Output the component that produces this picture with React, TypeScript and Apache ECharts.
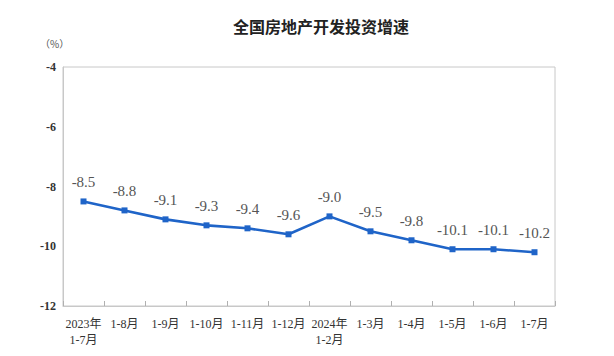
import React, { useEffect, useRef } from "react";
import * as echarts from "echarts";

const categories = [
  "2023年\n1-7月", "1-8月", "1-9月", "1-10月", "1-11月", "1-12月",
  "2024年\n1-2月", "1-3月", "1-4月", "1-5月", "1-6月", "1-7月",
];
const growth = [-8.5, -8.8, -9.1, -9.3, -9.4, -9.6, -9.0, -9.5, -9.8, -10.1, -10.1, -10.2];
const yTicks = { min: -12, max: -4, interval: 2 };

const SERIF = "'Liberation Serif', 'Times New Roman', 'Noto Sans CJK SC', serif";

export default function App() {
  const ref = useRef<HTMLDivElement>(null);
  useEffect(() => {
    if (!ref.current) return;
    const chart = echarts.init(ref.current, null, { renderer: "svg" });
    chart.setOption({
      animation: false,
      backgroundColor: "#ffffff",
      title: {
        text: "全国房地产开发投资增速",
        left: 228,
        top: 13,
        textStyle: {
          fontFamily: "'Noto Sans CJK SC', sans-serif",
          fontSize: 16,
          fontWeight: "bold",
          color: "#222",
        },
      },
      graphic: [
        {
          type: "text",
          left: 40,
          top: 38,
          style: {
            text: "（%）",
            fontFamily: "'Noto Sans CJK SC', sans-serif",
            fontSize: 10,
            fill: "#555",
          },
        },
      ],
      grid: {
        left: 63,
        right: 59,
        top: 67,
        bottom: 50,
        show: true,
        borderColor: "#c8c8c8",
        borderWidth: 1,
      },
      xAxis: {
        type: "category",
        data: categories,
        boundaryGap: true,
        axisLine: { show: true, lineStyle: { color: "#c8c8c8", width: 1 } },
        axisTick: { show: true, inside: true, length: 5, lineStyle: { color: "#b0b0b0" } },
        axisLabel: {
          interval: 0,
          color: "#333",
          fontFamily: SERIF,
          fontSize: 12,
          margin: 10,
          lineHeight: 16,
        },
      },
      yAxis: {
        type: "value",
        min: yTicks.min,
        max: yTicks.max,
        interval: yTicks.interval,
        axisLine: { show: true, lineStyle: { color: "#c8c8c8", width: 1 } },
        axisTick: { show: false },
        splitLine: { show: false },
        axisLabel: {
          color: "#333",
          fontFamily: SERIF,
          fontWeight: "bold",
          fontSize: 12,
          margin: 7,
        },
      },
      series: [
        {
          type: "line",
          data: growth,
          symbol: "rect",
          symbolSize: 6,
          lineStyle: { color: "#1f64c8", width: 2.6 },
          itemStyle: { color: "#1f64c8" },
          label: {
            show: true,
            position: "top",
            distance: 9,
            color: "#555",
            fontFamily: SERIF,
            fontSize: 15,
            formatter: (p: any) => (p.value as number).toFixed(1),
          },
        },
      ],
    });
    return () => chart.dispose();
  }, []);
  return <div ref={ref} style={{ width: 614, height: 356, margin: -8 }} />;
}
